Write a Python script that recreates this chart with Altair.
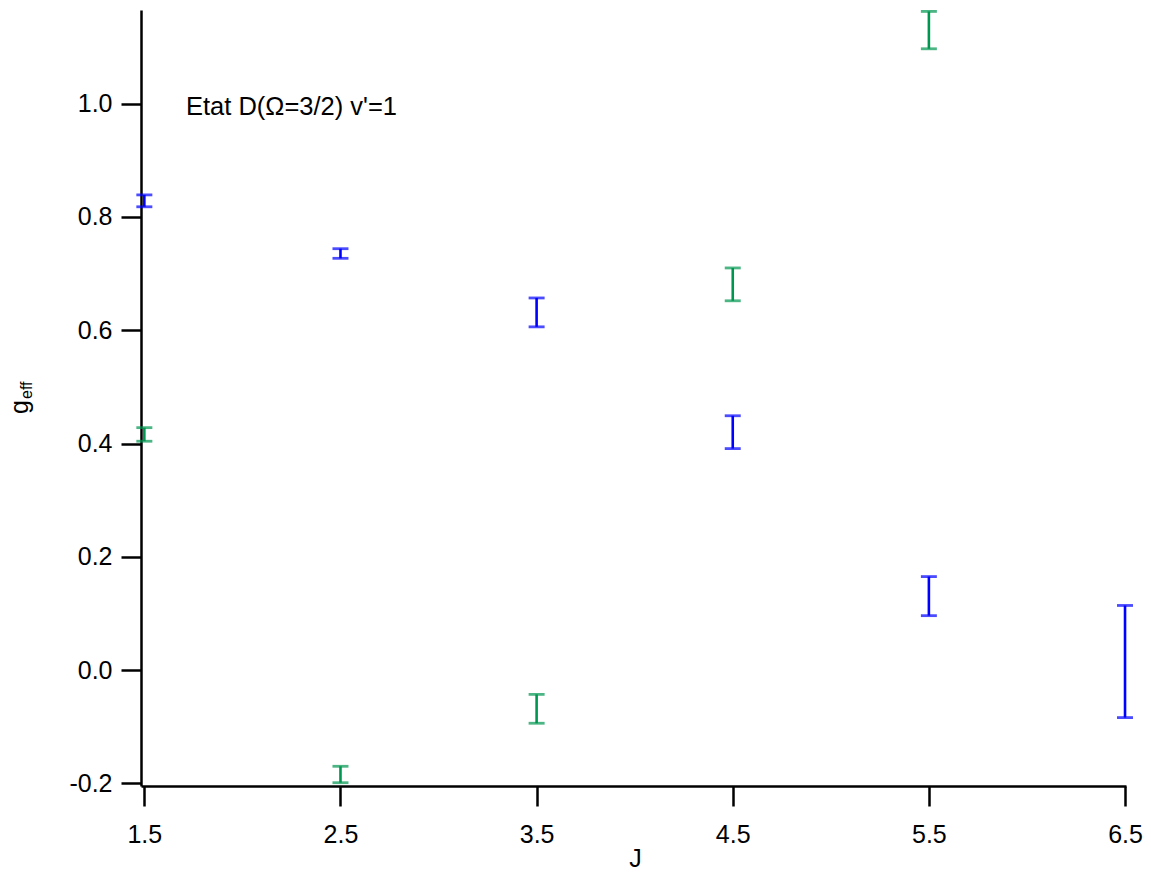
import altair as alt
import pandas as pd

# ---- data ----
J_blue = [1.5, 2.5, 3.5, 4.5, 5.5, 6.5]
blue_lo = [0.818, 0.727, 0.606, 0.391, 0.096, -0.084]
blue_hi = [0.839, 0.744, 0.657, 0.449, 0.165, 0.114]

J_green = [1.5, 2.5, 3.5, 4.5, 5.5]
green_lo = [0.404, -0.199, -0.094, 0.652, 1.097]
green_hi = [0.428, -0.170, -0.043, 0.710, 1.163]

x_ticks = [1.5, 2.5, 3.5, 4.5, 5.5, 6.5]
y_ticks = [-0.2, 0.0, 0.2, 0.4, 0.6, 0.8, 1.0]

annotation = "Etat D(\u03a9=3/2) v'=1"
y_title_main = "g"
y_title_sub = "eff"
x_title = "J"

series_names = ["bleu", "vert"]
series_colors = ["#0000FF", "#009650"]

rows = []
for j, lo, hi in zip(J_blue, blue_lo, blue_hi):
    rows.append({"J": j, "lo": lo, "hi": hi, "serie": "bleu"})
for j, lo, hi in zip(J_green, green_lo, green_hi):
    rows.append({"J": j, "lo": lo, "hi": hi, "serie": "vert"})
df = pd.DataFrame(rows)

FONT = "Liberation Sans"

xscale = alt.Scale(domain=[1.483, 6.505], nice=False, zero=False)
yscale = alt.Scale(domain=[-0.2048, 1.1655], nice=False, zero=False)

xaxis = alt.Axis(
    values=x_ticks, format=".1f", title=x_title, labelPadding=16,
    labelFlush=False, labelOverlap=False,
    titleX=494, titleY=80, titleBaseline="alphabetic", titleAlign="center",
    titleFont=FONT, titleFontSize=25, titleFontWeight="normal", titleColor="black",
)
yaxis = alt.Axis(
    values=y_ticks, title=None, labelPadding=9, labelFlush=False, labelOverlap=False,
    labelExpr="datum.value < 0 ? '-' + format(-datum.value, '.1f') : format(datum.value, '.1f')",
)
color = alt.Color("serie:N", scale=alt.Scale(domain=series_names, range=series_colors), legend=None)

base = alt.Chart(df)
rule = base.mark_rule(strokeWidth=2.6).encode(
    x=alt.X("J:Q", scale=xscale, axis=xaxis),
    y=alt.Y("lo:Q", scale=yscale, axis=yaxis),
    y2="hi:Q",
    color=color,
)
cap_lo = base.mark_tick(orient="horizontal", size=16, thickness=2.8).encode(
    x=alt.X("J:Q", scale=xscale, axis=xaxis),
    y=alt.Y("lo:Q", scale=yscale, axis=yaxis),
    color=color,
)
cap_hi = base.mark_tick(orient="horizontal", size=16, thickness=2.8).encode(
    x=alt.X("J:Q", scale=xscale, axis=xaxis),
    y=alt.Y("hi:Q", scale=yscale, axis=yaxis),
    color=color,
)

txt_df = pd.DataFrame({"t": [annotation]})
label = alt.Chart(txt_df).mark_text(
    align="left", baseline="alphabetic", font=FONT, fontSize=25.5, color="black"
).encode(x=alt.value(45), y=alt.value(105), text="t:N")

g_df = pd.DataFrame({"t": [y_title_main]})
g_txt = alt.Chart(g_df).mark_text(
    align="left", baseline="alphabetic", font=FONT, fontSize=25, color="black", angle=270
).encode(x=alt.value(-113), y=alt.value(404), text="t:N")

sub_df = pd.DataFrame({"t": [y_title_sub]})
sub_txt = alt.Chart(sub_df).mark_text(
    align="left", baseline="alphabetic", font=FONT, fontSize=16, color="black", angle=270
).encode(x=alt.value(-109), y=alt.value(389), text="t:N")

chart = alt.layer(rule, cap_lo, cap_hi, label, g_txt, sub_txt).properties(
    width=985, height=776,
    autosize=alt.AutoSizeParams(type="none"),
    padding={"left": 133, "top": 2, "right": 17, "bottom": 86},
).configure_view(stroke=None).configure_axis(
    grid=False, labelFont=FONT, labelFontSize=25, labelColor="black",
    domainColor="black", domainWidth=2.5, tickColor="black", tickWidth=2.5, tickSize=20,
)

chart.save("out.html", embed_options={"renderer": "svg", "actions": False})
